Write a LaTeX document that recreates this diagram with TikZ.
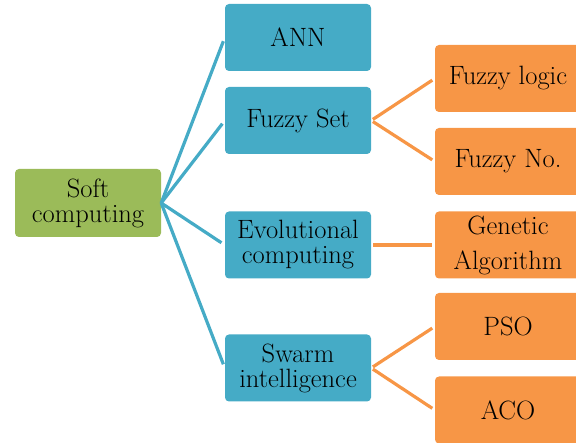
\documentclass[tikz,border=0pt]{standalone}
\usepackage{xcolor}
\usepackage{tikz}
\usetikzlibrary{arrows.meta, positioning}

\definecolor{rootgreen}{HTML}{9BBB59}
\definecolor{midblue}{HTML}{45ABC6}
\definecolor{leaforange}{HTML}{F79646}

\begin{document}
\begin{tikzpicture}[
  x=1pt, y=-1pt,
  font=\fontsize{26.5}{25}\selectfont,
  box/.style={rectangle, rounded corners=4pt, align=center, minimum width=146pt, minimum height=67pt, inner sep=0pt},
  rootbox/.style={box, fill=rootgreen, minimum height=68pt},
  midbox/.style={box, fill=midblue},
  leafbox/.style={box, fill=leaforange},
  bline/.style={draw=midblue, line width=3.2pt, shorten >=4pt},
  oline/.style={draw=leaforange, line width=3.2pt, shorten <=2pt, shorten >=3pt}
]
\useasboundingbox (0,0) rectangle (576,443);

% Root
\node[rootbox] (soft) at (88,203) {Soft\\computing};

% Second level
\node[midbox] (ann) at (298,37.5) {ANN};
\node[midbox] (fset) at (298,120.5) {Fuzzy Set};
\node[midbox] (evol) at (298,245) {Evolutional\\computing};
\node[midbox] (swarm) at (298,368) {Swarm\\intelligence};

% Third level
\node[leafbox] (flogic) at (508,78.5) {Fuzzy logic};
\node[leafbox] (fno) at (508,161.5) {Fuzzy No.};
\node[leafbox] (ga) at (508,245) {Genetic\\[10pt]Algorithm};
\node[leafbox] (pso) at (508,326.5) {PSO};
\node[leafbox] (aco) at (508,410) {ACO};

% Connectors
\draw[bline] (soft.east) -- (ann.west);
\draw[bline] (soft.east) -- (fset.west);
\draw[bline] (soft.east) -- (evol.west);
\draw[bline] (soft.east) -- (swarm.west);

\draw[oline] (fset.east) -- (flogic.west);
\draw[oline] (fset.east) -- (fno.west);
\draw[oline] (evol.east) -- (ga.west);
\draw[oline] (swarm.east) -- (pso.west);
\draw[oline] (swarm.east) -- (aco.west);

\end{tikzpicture}
\end{document}
